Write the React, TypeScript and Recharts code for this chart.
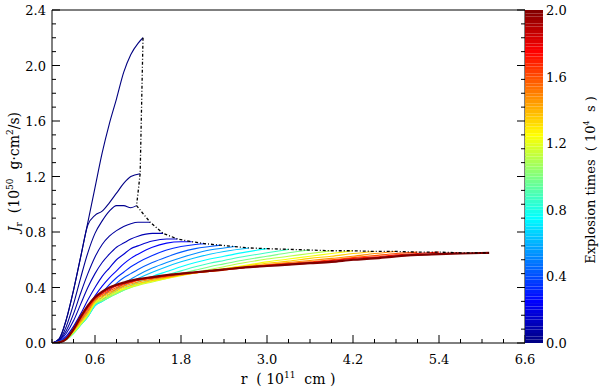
import React from "react";
import { LineChart, Line, XAxis, YAxis, ComposedChart, ReferenceArea } from "recharts";

// radius grid (10^11 cm) shared by the profiles below
const R_GRID = [0, 0.1, 0.2, 0.3, 0.4, 0.5, 0.6, 0.7, 0.8, 0.9, 1.0, 1.1, 1.2, 1.4, 1.6, 1.8, 2.0, 2.2, 2.4, 2.7, 3.0, 3.3, 3.6, 3.9, 4.2, 4.5, 4.8, 5.1, 5.4, 5.7];

// explosion time of every profile (10^4 s)
const TIMES = [0.0, 0.01, 0.03, 0.06, 0.1, 0.16, 0.24, 0.33, 0.43, 0.53, 0.63, 0.75, 0.87, 0.99, 1.11, 1.23, 1.35, 1.47, 1.59, 1.71, 1.83, 2.0];

// outer edge of each profile (these points make the dotted envelope)
const END_R = [1.27, 1.23, 1.18, 1.37, 1.55, 1.75, 1.95, 2.15, 2.35, 2.55, 2.75, 3.0, 3.3, 3.6, 3.9, 4.2, 4.5, 4.8, 5.1, 5.4, 5.7, 6.1];
const END_J = [2.2, 1.22, 0.99, 0.87, 0.79, 0.75, 0.73, 0.715, 0.705, 0.695, 0.685, 0.68, 0.675, 0.67, 0.665, 0.665, 0.66, 0.66, 0.655, 0.655, 0.65, 0.65];

// J_r (10^50 g cm^2/s) on R_GRID, one row per time, up to the profile's edge
const J_ROWS = [
  [0, 0.03, 0.17, 0.38, 0.62, 0.87, 1.12, 1.37, 1.58, 1.76, 1.95, 2.08, 2.16],
  [0, 0.03, 0.17, 0.38, 0.62, 0.85, 0.92, 0.95, 1.01, 1.08, 1.15, 1.2],
  [0, 0.02, 0.12, 0.28, 0.47, 0.65, 0.79, 0.88, 0.95, 0.99, 0.99, 0.975],
  [0, 0.02, 0.09, 0.21, 0.36, 0.5, 0.62, 0.71, 0.77, 0.81, 0.84, 0.86, 0.87],
  [0, 0.015, 0.07, 0.16, 0.28, 0.4, 0.5, 0.58, 0.64, 0.69, 0.72, 0.75, 0.77, 0.79],
  [0, 0.01, 0.05, 0.12, 0.21, 0.31, 0.4, 0.48, 0.54, 0.6, 0.64, 0.68, 0.7, 0.735, 0.75],
  [0, 0.01, 0.04, 0.1, 0.18, 0.26, 0.34, 0.41, 0.47, 0.52, 0.57, 0.61, 0.64, 0.69, 0.72, 0.73],
  [0, 0.01, 0.04, 0.09, 0.16, 0.23, 0.3, 0.36, 0.42, 0.47, 0.51, 0.55, 0.58, 0.63, 0.67, 0.695, 0.71],
  [0, 0.01, 0.035, 0.085, 0.15, 0.21, 0.28, 0.33, 0.38, 0.43, 0.47, 0.5, 0.53, 0.58, 0.62, 0.655, 0.68, 0.695],
  [0, 0.01, 0.03, 0.08, 0.14, 0.2, 0.27, 0.31, 0.35, 0.39, 0.43, 0.46, 0.49, 0.54, 0.58, 0.615, 0.645, 0.67, 0.685],
  [0, 0.005, 0.03, 0.075, 0.13, 0.19, 0.27, 0.3, 0.34, 0.375, 0.41, 0.44, 0.465, 0.51, 0.55, 0.585, 0.615, 0.64, 0.66],
  [0, 0.005, 0.025, 0.07, 0.13, 0.19, 0.27, 0.3, 0.33, 0.36, 0.39, 0.415, 0.44, 0.48, 0.515, 0.55, 0.58, 0.605, 0.625, 0.655],
  [0, 0.005, 0.025, 0.07, 0.13, 0.19, 0.275, 0.3, 0.33, 0.355, 0.38, 0.405, 0.425, 0.46, 0.49, 0.52, 0.55, 0.575, 0.595, 0.625, 0.65],
  [0, 0.005, 0.025, 0.07, 0.13, 0.195, 0.28, 0.305, 0.33, 0.355, 0.38, 0.4, 0.42, 0.45, 0.475, 0.5, 0.525, 0.55, 0.57, 0.6, 0.625, 0.65],
  [0, 0.005, 0.025, 0.075, 0.135, 0.2, 0.285, 0.31, 0.335, 0.36, 0.385, 0.4, 0.415, 0.44, 0.465, 0.49, 0.51, 0.53, 0.55, 0.58, 0.605, 0.625, 0.645],
  [0, 0.005, 0.027, 0.08, 0.14, 0.205, 0.29, 0.32, 0.345, 0.37, 0.39, 0.405, 0.42, 0.445, 0.465, 0.485, 0.505, 0.52, 0.535, 0.56, 0.585, 0.605, 0.625, 0.645],
  [0, 0.005, 0.028, 0.085, 0.15, 0.215, 0.3, 0.33, 0.355, 0.38, 0.4, 0.415, 0.43, 0.45, 0.47, 0.49, 0.505, 0.52, 0.535, 0.555, 0.575, 0.59, 0.61, 0.625, 0.645],
  [0, 0.005, 0.028, 0.09, 0.16, 0.23, 0.31, 0.34, 0.365, 0.39, 0.41, 0.425, 0.44, 0.46, 0.475, 0.49, 0.505, 0.515, 0.53, 0.55, 0.565, 0.58, 0.595, 0.61, 0.625, 0.645],
  [0, 0.005, 0.03, 0.09, 0.17, 0.245, 0.315, 0.35, 0.375, 0.4, 0.42, 0.435, 0.45, 0.465, 0.48, 0.495, 0.505, 0.515, 0.525, 0.545, 0.56, 0.575, 0.585, 0.6, 0.615, 0.63, 0.645],
  [0, 0.005, 0.03, 0.095, 0.18, 0.255, 0.32, 0.36, 0.385, 0.41, 0.425, 0.44, 0.455, 0.47, 0.485, 0.5, 0.51, 0.52, 0.53, 0.545, 0.56, 0.57, 0.58, 0.595, 0.61, 0.62, 0.635, 0.645],
  [0, 0.005, 0.03, 0.1, 0.185, 0.265, 0.325, 0.365, 0.395, 0.415, 0.43, 0.445, 0.455, 0.47, 0.485, 0.5, 0.51, 0.52, 0.53, 0.545, 0.555, 0.565, 0.575, 0.59, 0.6, 0.615, 0.625, 0.635, 0.645],
  [0, 0.005, 0.03, 0.1, 0.19, 0.27, 0.33, 0.37, 0.4, 0.42, 0.435, 0.45, 0.46, 0.475, 0.49, 0.5, 0.51, 0.52, 0.53, 0.545, 0.555, 0.565, 0.575, 0.585, 0.6, 0.61, 0.625, 0.635, 0.64, 0.645],
];

const X_TICKS = [0, 0.3, 0.6, 0.9, 1.2, 1.5, 1.8, 2.1, 2.4, 2.7, 3.0, 3.3, 3.6, 3.9, 4.2, 4.5, 4.8, 5.1, 5.4, 5.7, 6.0, 6.3, 6.6];
const X_LABELED = [0.6, 1.8, 3.0, 4.2, 5.4, 6.6];
const Y_TICKS = [0, 0.1, 0.2, 0.3, 0.4, 0.5, 0.6, 0.7, 0.8, 0.9, 1.0, 1.1, 1.2, 1.3, 1.4, 1.5, 1.6, 1.7, 1.8, 1.9, 2.0, 2.1, 2.2, 2.3, 2.4];
const Y_LABELED = [0, 0.4, 0.8, 1.2, 1.6, 2.0, 2.4];
const CB_TICKS = [0, 0.4, 0.8, 1.2, 1.6, 2.0];

const FONT = "'DejaVu Serif', 'Liberation Serif', serif";
const T_MAX = 2.0;

function jet(f: number) {
  const c = (v: number) => Math.round(255 * Math.max(0, Math.min(1, v)));
  return `rgb(${c(1.5 - Math.abs(4 * f - 3))},${c(1.5 - Math.abs(4 * f - 2))},${c(1.5 - Math.abs(4 * f - 1))})`;
}

const isIn = (v: number, list: number[]) => list.some((m) => Math.abs(m - v) < 1e-6);

const curves = J_ROWS.map((row, k) => [
  ...row.map((j, i) => ({ r: R_GRID[i], j })),
  { r: END_R[k], j: END_J[k] },
]);
const envelope = END_R.map((r, k) => ({ r, j: END_J[k] }));

// colour bar bands
const CB_BANDS = Array.from({ length: 100 }, (_, i) => (i * T_MAX) / 100);

function BottomTick({ x, y, payload }: any) {
  const major = isIn(payload.value, X_LABELED);
  return (
    <g>
      <line x1={x} x2={x} y1={y} y2={y - (major ? 8 : 4)} stroke="#000" />
      {major && (
        <text x={x} y={y + 21} textAnchor="middle" fontFamily={FONT} fontSize={13} fill="#000">
          {payload.value.toFixed(1)}
        </text>
      )}
    </g>
  );
}

function TopTick({ x, y, payload }: any) {
  const major = isIn(payload.value, X_LABELED);
  return <line x1={x} x2={x} y1={y} y2={y + (major ? 8 : 4)} stroke="#000" />;
}

function LeftTick({ x, y, payload }: any) {
  const major = isIn(payload.value, Y_LABELED);
  return (
    <g>
      <line x1={x} x2={x + (major ? 8 : 4)} y1={y} y2={y} stroke="#000" />
      {major && (
        <text x={x - 6} y={y + 5} textAnchor="end" fontFamily={FONT} fontSize={13} fill="#000">
          {payload.value.toFixed(1)}
        </text>
      )}
    </g>
  );
}

function RightTick({ x, y, payload }: any) {
  const major = isIn(payload.value, Y_LABELED);
  return <line x1={x} x2={x - (major ? 8 : 4)} y1={y} y2={y} stroke="#000" />;
}

function BarTick({ x, y, payload }: any) {
  return (
    <text x={x + 3} y={y + 5} textAnchor="start" fontFamily={FONT} fontSize={13} fill="#000">
      {payload.value.toFixed(1)}
    </text>
  );
}

function XTitle() {
  return (
    <text x={288} y={384} textAnchor="middle" fontFamily={FONT} fontSize={14} fill="#000" style={{ whiteSpace: "pre" }}>
      <tspan>{"r  ( 10"}</tspan>
      <tspan fontSize={9} dy={-6}>11</tspan>
      <tspan dy={6}>{"  cm )"}</tspan>
    </text>
  );
}

function YTitle() {
  return (
    <text x={19} y={172} transform="rotate(-90 19 172)" textAnchor="middle" fontFamily={FONT} fontSize={14} fill="#000" style={{ whiteSpace: "pre" }}>
      <tspan fontStyle="italic">J</tspan>
      <tspan fontSize={9} dy={3}>r</tspan>
      <tspan dy={-3}>{"  (10"}</tspan>
      <tspan fontSize={9} dy={-6}>50</tspan>
      <tspan dy={6}>{"  g·cm"}</tspan>
      <tspan fontSize={9} dy={-6}>2</tspan>
      <tspan dy={6}>{"/s)"}</tspan>
    </text>
  );
}

function BarTitle() {
  return (
    <text x={70} y={180} transform="rotate(-90 70 180)" textAnchor="middle" fontFamily={FONT} fontSize={13} fill="#000" style={{ whiteSpace: "pre" }}>
      <tspan>{"Explosion times  ( 10"}</tspan>
      <tspan fontSize={8} dy={-6}>4</tspan>
      <tspan dy={6}>{"  s )"}</tspan>
    </text>
  );
}

export default function App() {
  return (
    <div style={{ position: "fixed", left: 0, top: 0, width: 600, height: 390, background: "#fff" }}>
      <div style={{ position: "absolute", left: 0, top: 0 }}>
        <LineChart width={600} height={390} margin={{ top: 9, right: 74, bottom: 0, left: 0 }}>
          <XAxis
            dataKey="r" type="number" domain={[0, 6.6]} allowDataOverflow
            ticks={X_TICKS} interval={0} tickSize={0} tickMargin={0} tickLine={false}
            axisLine={{ stroke: "#000" }} tick={<BottomTick />} height={47} label={<XTitle />}
          />
          <XAxis
            xAxisId="top" orientation="top" type="number" domain={[0, 6.6]} allowDataOverflow
            ticks={X_TICKS} interval={0} tickSize={0} tickMargin={0} tickLine={false}
            axisLine={{ stroke: "#000" }} tick={<TopTick />} height={1}
          />
          <YAxis
            type="number" domain={[0, 2.4]} allowDataOverflow
            ticks={Y_TICKS} interval={0} tickSize={0} tickMargin={0} tickLine={false}
            axisLine={{ stroke: "#000" }} tick={<LeftTick />} width={52} label={<YTitle />}
          />
          <YAxis
            yAxisId="right" orientation="right" type="number" domain={[0, 2.4]} allowDataOverflow
            ticks={Y_TICKS} interval={0} tickSize={0} tickMargin={0} tickLine={false}
            axisLine={{ stroke: "#000" }} tick={<RightTick />} width={1}
          />
          {curves.map((pts, k) => (
            <Line
              key={k} data={pts} dataKey="j" type="monotone"
              stroke={jet(TIMES[k] / T_MAX)} strokeWidth={k === curves.length - 1 ? 2.2 : 1.1}
              dot={false} isAnimationActive={false}
            />
          ))}
          <Line
            data={envelope} dataKey="j" type="linear" stroke="#000" strokeWidth={1.3}
            strokeDasharray="3 2 1 2" dot={false} isAnimationActive={false}
          />
        </LineChart>
      </div>
      <div style={{ position: "absolute", left: 525, top: 0 }}>
        <ComposedChart width={75} height={390} data={CB_BANDS.map((t) => ({ t }))} margin={{ top: 10, right: 0, bottom: 47, left: 0 }}>
          <XAxis type="number" dataKey="t" domain={[0, 1]} hide allowDataOverflow />
          <YAxis
            orientation="right" type="number" domain={[0, T_MAX]} allowDataOverflow
            ticks={CB_TICKS} interval={0} tickSize={0} tickMargin={0} tickLine={false}
            axisLine={false} tick={<BarTick />} width={57} label={<BarTitle />}
          />
          {CB_BANDS.map((t) => (
            <ReferenceArea
              key={t} y1={t} y2={t + T_MAX / 100} fill={jet((t + T_MAX / 200) / T_MAX)}
              fillOpacity={1} stroke="none" ifOverflow="visible"
            />
          ))}
        </ComposedChart>
      </div>
    </div>
  );
}
